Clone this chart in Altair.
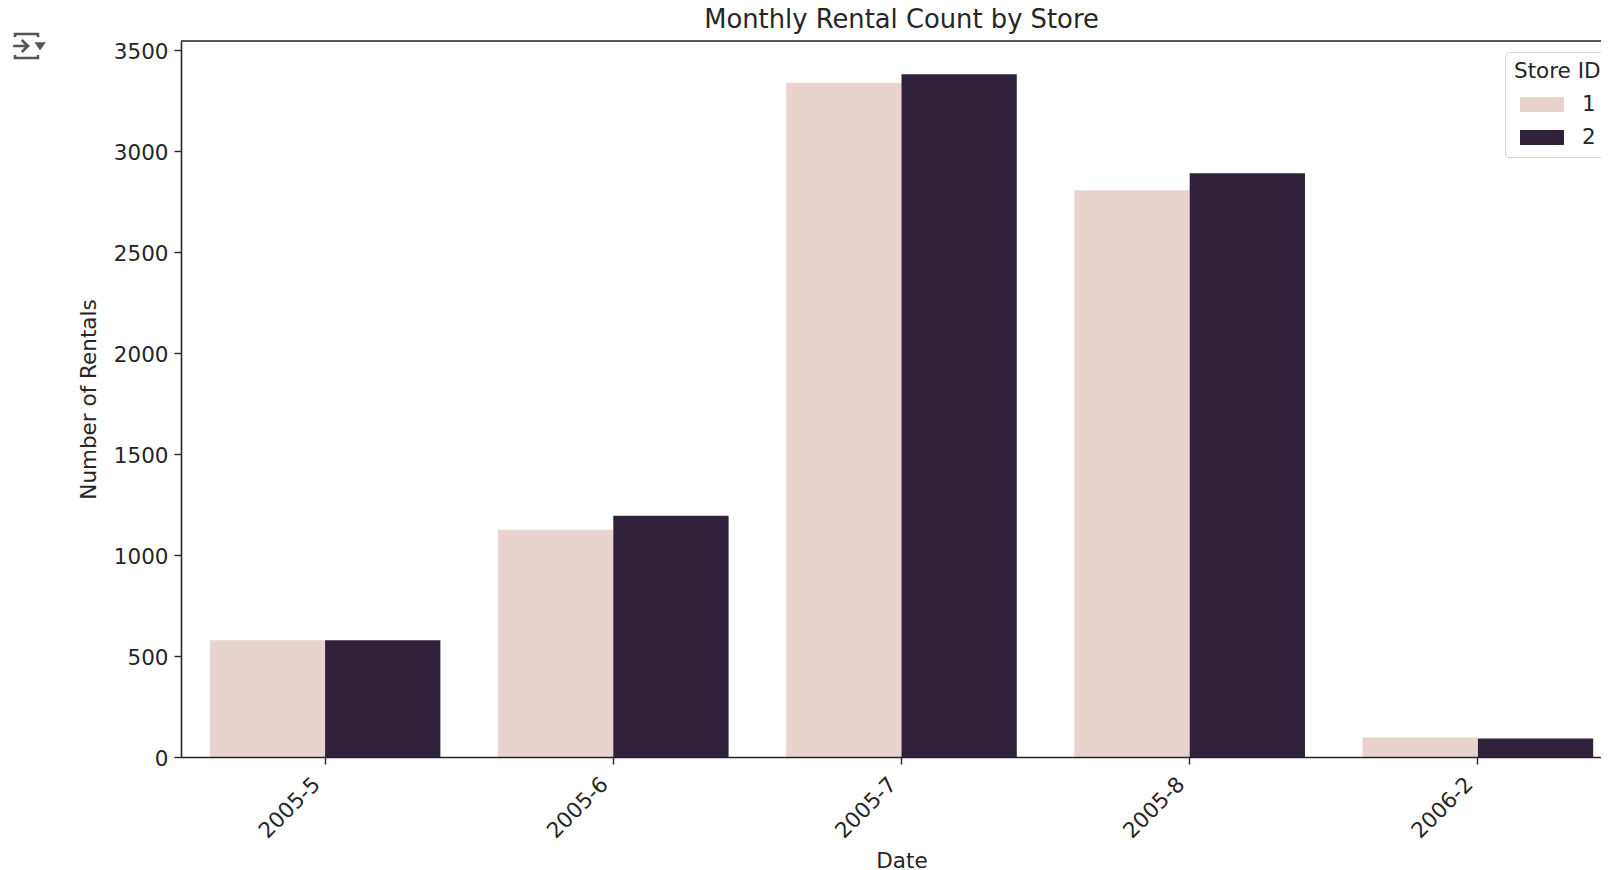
import altair as alt
import pandas as pd

months = ["2005-5", "2005-6", "2005-7", "2005-8", "2006-2"]
store_1 = [578, 1125, 3338, 2806, 97]
store_2 = [578, 1195, 3380, 2890, 92]
store_ids = ["1", "2"]
store_colors = ["#e9d3ce", "#2f2139"]
y_ticks = [0, 500, 1000, 1500, 2000, 2500, 3000, 3500]

FONT = "DejaVu Sans"
INK = "#262626"
FS = 21.5

rows = [{"Date": m, "Store ID": "1", "Rentals": v} for m, v in zip(months, store_1)]
rows += [{"Date": m, "Store ID": "2", "Rentals": v} for m, v in zip(months, store_2)]
df = pd.DataFrame(rows)

bars = alt.Chart(df).mark_bar(cornerRadius=0).encode(
    x=alt.X("Date:N", sort=months, title="Date",
            scale=alt.Scale(paddingInner=0, paddingOuter=0),
            axis=alt.Axis(labelAngle=-45, labelAlign="right", labelBaseline="middle",
                          labelOffset=-8, labelPadding=17, tickSize=7, tickWidth=1.4, tickColor=INK,
                          labelColor=INK, labelFont=FONT, labelFontSize=FS,
                          titleFont=FONT, titleFontSize=FS, titleFontWeight="normal",
                          titleColor=INK, titlePadding=8, domainColor=INK,
                          domainWidth=1.6, zindex=1, grid=False)),
    xOffset=alt.XOffset("Store ID:N", sort=store_ids,
                        scale=alt.Scale(paddingInner=0, paddingOuter=0.25)),
    y=alt.Y("Rentals:Q", title="Number of Rentals",
            scale=alt.Scale(domain=[0, 3545], nice=False),
            axis=alt.Axis(values=y_ticks, format="d", tickSize=7, tickWidth=1.4, tickColor=INK,
                          labelColor=INK, labelFont=FONT, labelFontSize=FS, labelPadding=6,
                          labelOffset=2,
                          titleFont=FONT, titleFontSize=FS, titleFontWeight="normal",
                          titleColor=INK, titlePadding=13, domainColor=INK,
                          domainWidth=1.6, zindex=1, grid=False)),
    color=alt.Color("Store ID:N", sort=store_ids,
                    scale=alt.Scale(domain=store_ids, range=store_colors),
                    legend=alt.Legend(orient="none", legendX=1324, legendY=11,
                                      title="Store ID", titleFont=FONT, titleFontSize=FS,
                                      titleFontWeight="normal", titleColor=INK,
                                      labelFont=FONT, labelFontSize=FS, labelColor=INK,
                                      symbolType="M-1,-0.34H1V0.34H-1Z", symbolSize=1936,
                                      symbolOffset=6, symbolStrokeWidth=0, rowPadding=-13,
                                      labelOffset=18, titlePadding=0, padding=9,
                                      fillColor="white", strokeColor="#d5d5d5", cornerRadius=4)),
)

icon_row = pd.DataFrame({"icon": [1]})
top_spine = alt.Chart(icon_row).mark_rule(color=INK, strokeWidth=1.6).encode(
    x=alt.value(0), x2=alt.value(1441), y=alt.value(0))
icon_lines = alt.Chart(icon_row).mark_point(
    shape="M-1,-.6V-.8H.53V-.6M-1,.6V.8H.53V.6M-1.13,0H-.13M-.55,-.4L-.13,0L-.55,.4",
    size=900, filled=False, stroke="#555555", strokeWidth=2.6, opacity=1,
).encode(x=alt.value(-151), y=alt.value(5))
icon_tri = alt.Chart(icon_row).mark_point(
    shape="M.3,-.25H1.05L.67,.3Z", size=900, filled=True, fill="#555555", opacity=1,
).encode(x=alt.value(-151), y=alt.value(5))

chart = alt.layer(bars, top_spine, icon_lines, icon_tri).properties(
    width=1441, height=716,
    autosize=alt.AutoSizeParams(type="none"),
    padding={"left": 173, "top": 33, "right": -21, "bottom": 113},
    title=alt.TitleParams("Monthly Rental Count by Store", font=FONT, fontSize=25.8,
                          fontWeight="normal", color=INK, anchor="middle", offset=-4.5),
).configure_view(stroke=None).configure(background="white")

chart.save("out.html", embed_options={"renderer": "svg", "actions": False})
